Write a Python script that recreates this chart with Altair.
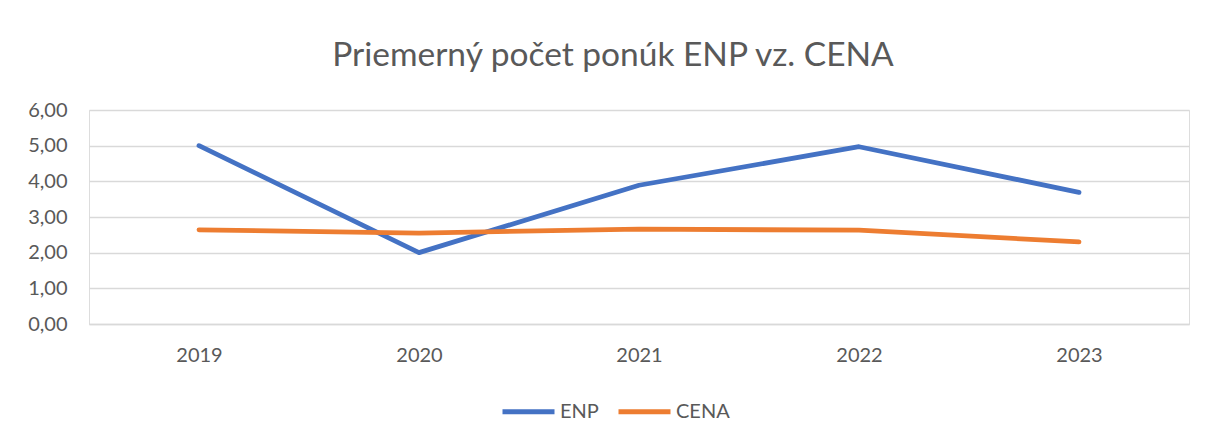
import altair as alt
import pandas as pd

years = ["2019", "2020", "2021", "2022", "2023"]
enp = [5.00, 2.00, 3.89, 4.97, 3.69]
cena = [2.64, 2.55, 2.66, 2.63, 2.30]
series_names = ["ENP", "CENA"]
series_colors = ["#4472C4", "#ED7D31"]

rows = []
for name, vals in zip(series_names, [enp, cena]):
    for y, v in zip(years, vals):
        rows.append({"Rok": y, "Séria": name, "Hodnota": v})
df = pd.DataFrame(rows)

FONT = "Lato"
TXT = "#595959"
GRID = "#D9D9D9"

chart = (
    alt.Chart(df)
    .mark_line(strokeWidth=4.8, strokeCap="round", strokeJoin="round")
    .encode(
        x=alt.X(
            "Rok:O",
            scale=alt.Scale(type="point", padding=0.5),
            axis=alt.Axis(
                title=None,
                labelAngle=0,
                ticks=False,
                grid=False,
                domain=True,
                domainColor=GRID,
                domainWidth=1.3,
                labelFont=FONT,
                labelFontSize=20,
                labelColor=TXT,
                labelPadding=21,
            ),
        ),
        y=alt.Y(
            "Hodnota:Q",
            scale=alt.Scale(domain=[0, 6], nice=False, zero=True),
            axis=alt.Axis(
                title=None,
                values=[0, 1, 2, 3, 4, 5, 6],
                labelExpr="replace(format(datum.value, '.2f'), '.', ',')",
                ticks=False,
                domain=False,
                grid=True,
                gridColor=GRID,
                gridWidth=1.3,
                labelFont=FONT,
                labelFontSize=20,
                labelColor=TXT,
                labelPadding=22,
            ),
        ),
        color=alt.Color(
            "Séria:N",
            scale=alt.Scale(domain=series_names, range=series_colors),
            sort=series_names,
            legend=alt.Legend(
                title=None,
                orient="none",
                direction="horizontal",
                legendX=411,
                legendY=273,
                symbolType="stroke",
                symbolSize=2704,
                symbolStrokeWidth=4.8,
                labelFont=FONT,
                labelFontSize=20,
                labelColor=TXT,
                labelOffset=3,
                columnPadding=9,
            ),
        ),
        order=alt.Order("Rok:O"),
    )
    .properties(
        width=1100,
        height=214,
        title=alt.Title(
            "Priemerný počet ponúk ENP vz. CENA",
            font=FONT,
            fontSize=33.5,
            fontWeight="normal",
            color=TXT,
            anchor="middle",
            baseline="alphabetic",
            offset=1,
            dx=-26,
        ),
        autosize=alt.AutoSizeParams(type="none"),
        padding={"left": 81, "top": 102, "right": 16, "bottom": 109},
    )
    .configure_view(stroke=None)
    .configure(background="white")
)

chart.save("out.html", embed_options={"renderer": "svg", "actions": False})
